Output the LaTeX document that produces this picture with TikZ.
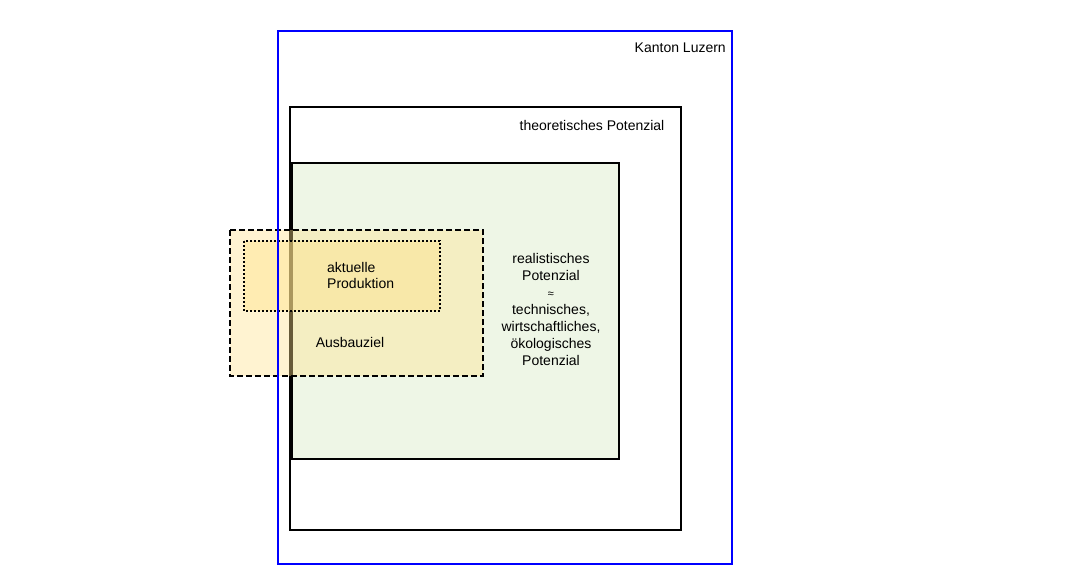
\documentclass[tikz,border=0pt]{standalone}
\usepackage{fontspec}
\setmainfont{Liberation Sans}
\definecolor{realgreen}{RGB}{238,246,230}
\definecolor{zielgelb}{RGB}{255,226,140}
\definecolor{kantonblue}{RGB}{0,0,255}

\begin{document}
\begin{tikzpicture}[x=1pt, y=-1pt, font=\fontsize{14}{17}\selectfont,
  flaeche/.style = {line width=2pt},
  ziel/.style = {flaeche, fill=zielgelb, fill opacity=0.4, dash pattern=on 6pt off 3pt},
  produktion/.style = {flaeche, fill=zielgelb, fill opacity=0.45, dash pattern=on 2pt off 2pt},
  beschriftung/.style = {inner sep=0pt, text opacity=1}]
  \useasboundingbox (0,0) rectangle (1087,586);
  \coordinate (KL) at (278,31);
  \coordinate (KR) at (732,564);
  \coordinate (TL) at (290,107);
  \coordinate (TR) at (681,530);
  \coordinate (RL) at (292,163);
  \coordinate (RR) at (619,459);
  \coordinate (AL) at (230,230);
  \coordinate (AR) at (483,376);
  \coordinate (PL) at (244,241);
  \coordinate (PR) at (440,311);
  % Potenziale
  \draw[flaeche, fill=realgreen] (RL) rectangle (RR);
  \draw[flaeche] (TL) rectangle (TR);
  % Ausbauziel und Produktion
  \draw[ziel] (AL) rectangle (AR);
  \draw[produktion] (PL) rectangle (PR);
  % Kanton
  \draw[flaeche, kantonblue] (KL) rectangle (KR);
  % Texte
  \node[beschriftung, anchor=base east] (kanton) at (726,53) {Kanton Luzern};
  \node[beschriftung, anchor=base] (theo) at (592,130) {theoretisches Potenzial};
  \node[beschriftung, anchor=west, align=left, font=\fontsize{14}{16}\selectfont] (akt) at (327,275) {aktuelle\\Produktion};
  \node[beschriftung] (ausbau) at (350,342) {Ausbauziel};
  \node[beschriftung, align=center] (real) at (551,309)
    {realistisches\\Potenzial\\{\fontsize{11}{17}\selectfont ≈}\\technisches,\\wirtschaftliches,\\ökologisches\\Potenzial};
\end{tikzpicture}
\end{document}
